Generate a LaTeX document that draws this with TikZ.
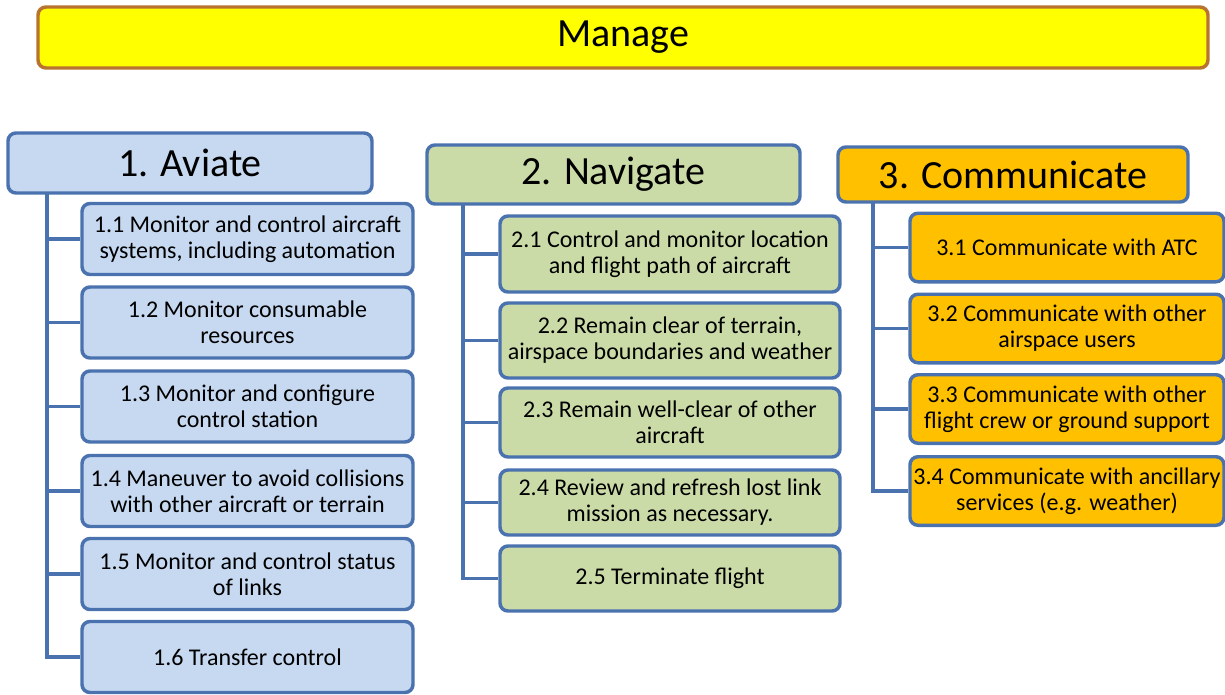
\documentclass[tikz,border=0pt]{standalone}
\usepackage{fontspec}
\setmainfont{Carlito}
\usepackage{xcolor}

\definecolor{aviatefill}{HTML}{C6D9F1}
\definecolor{navfill}{HTML}{CBDBA7}
\definecolor{commfill}{HTML}{FFC000}
\definecolor{managefill}{HTML}{FFFF00}
\definecolor{manageline}{HTML}{B8732F}
\definecolor{boxline}{HTML}{4A72AE}

\begin{document}
\begin{tikzpicture}[x=0.75pt, y=-0.75pt,
  hdr/.style={draw=boxline, line width=2.6pt, rounded corners=6pt, inner sep=0pt,
    font=\fontsize{30}{32}\selectfont},
  sub/.style={draw=boxline, line width=2.6pt, rounded corners=6pt, inner sep=0pt,
    align=center, font=\fontsize{18}{19.5}\selectfont},
  trunk/.style={draw=boxline, line width=2.8pt}]
\useasboundingbox (0, 0) rectangle (1225, 694);

% top box
\node [hdr, draw=manageline, fill=managefill, minimum width=877.5pt, minimum height=45.75pt]
  (manage) at (623, 37.5) {Manage};

% 1. Aviate
\coordinate (atrunk) at (47, 193);
\node [sub, fill=aviatefill, minimum width=248.25pt, minimum height=53.25pt] (a1) at (247.5, 239)
  {1.1 Monitor and control aircraft\\systems, including automation};
\node [sub, fill=aviatefill, minimum width=248.25pt, minimum height=53.25pt] (a2) at (247.5, 322.5)
  {1.2 Monitor consumable\\resources};
\node [sub, fill=aviatefill, minimum width=248.25pt, minimum height=53.25pt] (a3) at (247.5, 406.5)
  {1.3 Monitor and configure\\control station};
\node [sub, fill=aviatefill, minimum width=248.25pt, minimum height=53.25pt] (a4) at (247.5, 491)
  {1.4 Maneuver to avoid collisions\\with other aircraft or terrain};
\node [sub, fill=aviatefill, minimum width=248.25pt, minimum height=53.25pt] (a5) at (247.5, 574)
  {1.5 Monitor and control status\\of links};
\node [sub, fill=aviatefill, minimum width=248.25pt, minimum height=53.25pt] (a6) at (247.5, 657)
  {1.6 Transfer control};
\foreach \i in {1,...,6}
  \draw [trunk] (atrunk) |- (a\i.west);
\node [hdr, fill=aviatefill, minimum width=273pt, minimum height=45pt] (aviate) at (190, 163) {1. Aviate};

% 2. Navigate
\coordinate (ntrunk) at (463, 204);
\node [sub, fill=navfill, minimum width=255pt, minimum height=57pt] (n1) at (670, 254)
  {2.1 Control and monitor location\\and flight path of aircraft};
\node [sub, fill=navfill, minimum width=255pt, minimum height=56.25pt] (n2) at (670, 340.5)
  {2.2 Remain clear of terrain,\\airspace boundaries and weather};
\node [sub, fill=navfill, minimum width=255pt, minimum height=51.75pt] (n3) at (670, 422.5)
  {2.3 Remain well-clear of other\\aircraft};
\node [sub, fill=navfill, minimum width=255pt, minimum height=48.75pt] (n4) at (670, 502.5)
  {2.4 Review and refresh lost link\\mission as necessary.};
\node [sub, fill=navfill, minimum width=255pt, minimum height=48.75pt] (n5) at (670, 578.5)
  {2.5 Terminate flight};
\foreach \i in {1,...,5}
  \draw [trunk] (ntrunk) |- (n\i.west);
\node [hdr, fill=navfill, minimum width=279.75pt, minimum height=44.25pt] (navigate) at (613.5, 174.5) {2. Navigate};

% 3. Communicate
\coordinate (ctrunk) at (873, 202);
\node [sub, fill=commfill, minimum width=235.5pt, minimum height=51.4pt] (c1) at (1067, 247.5)
  {3.1 Communicate with ATC};
\node [sub, fill=commfill, minimum width=235.5pt, minimum height=51.4pt] (c2) at (1067, 328.5)
  {3.2 Communicate with other\\airspace users};
\node [sub, fill=commfill, minimum width=235.5pt, minimum height=51.4pt] (c3) at (1067, 409)
  {3.3 Communicate with other\\flight crew or ground support};
\node [sub, fill=commfill, minimum width=235.5pt, minimum height=51.4pt] (c4) at (1067, 491)
  {3.4 Communicate with ancillary\\services (e.g. weather)};
\foreach \i in {1,...,4}
  \draw [trunk] (ctrunk) |- (c\i.west);
\node [hdr, fill=commfill, minimum width=262.5pt, minimum height=41.25pt] (communicate) at (1013, 174.5) {3. Communicate};
\end{tikzpicture}
\end{document}
